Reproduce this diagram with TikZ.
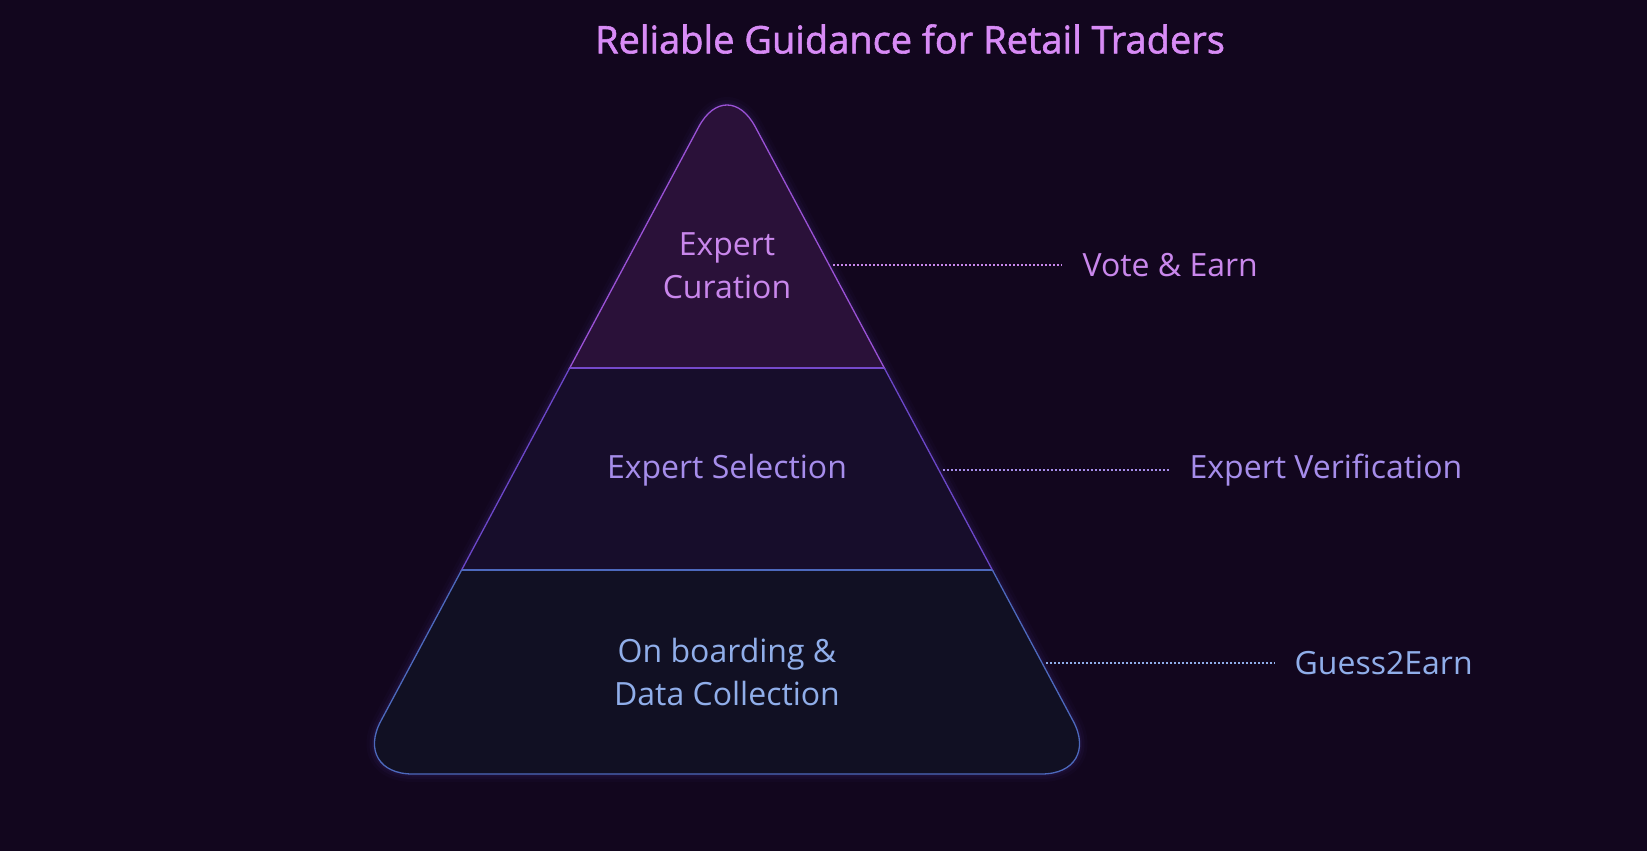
\documentclass[tikz,border=0pt]{standalone}
\usepackage{fontspec}
\setmainfont{Open Sans}
\newfontfamily\titlefont[FakeBold=1.5]{Open Sans}
\usetikzlibrary{calc}
\definecolor{bgc}{HTML}{12061E}
\definecolor{topf}{HTML}{2A1139}
\definecolor{midf}{HTML}{170D2B}
\definecolor{botf}{HTML}{111023}
\definecolor{tops}{HTML}{9B52D6}
\definecolor{mids}{HTML}{6C47C9}
\definecolor{bots}{HTML}{4D69BD}
\definecolor{topt}{HTML}{C987EC}
\definecolor{midt}{HTML}{A68DEB}
\definecolor{bott}{HTML}{90AEEA}
\definecolor{titlec}{HTML}{D88BF6}

\begin{document}
\begin{tikzpicture}[x=1pt,y=-1pt,line width=1.3pt,
  lbl/.style={font=\fontsize{32}{43}\selectfont,align=center,inner sep=0pt},
  dots/.style={line width=1.7pt,dash pattern=on 1.7pt off 2.3pt,shorten <=4pt,shorten >=20pt}]
\fill[bgc] (0,0) rectangle (1647,851); \useasboundingbox (0,0) rectangle (1647,851);
\coordinate (T) at (727,74); \coordinate (L) at (352.5,774); \coordinate (R) at (1101.5,774);
\def\pyr{(727,774) [rounded corners=60pt] -- (R) -- (T) -- (L) -- cycle}
% soft glow round the pyramid
\foreach \w/\o in {16/.03,10/.05,5/.07} \draw[line width=\w pt,mids,opacity=\o] \pyr;
% three tiers
\foreach \ya/\yb/\fc/\sc in {0/368/topf/tops,368/570/midf/mids,570/851/botf/bots} {
  \begin{scope} \clip (0,\ya) rectangle (1647,\yb); \fill[\fc] \pyr; \draw[\sc] \pyr; \end{scope}}
\draw[mids!80!tops] ($(T)!.42!(L)$) -- ($(T)!.42!(R)$);
\draw[bots] ($(T)!.7086!(L)$) -- ($(T)!.7086!(R)$);
\node[titlec,font=\titlefont\fontsize{38}{45}\selectfont] (title) at (910,39) {Reliable Guidance for Retail Traders};
\node[lbl,topt] (cur) at (727,266) {Expert\\Curation};
\node[lbl,midt] (sel) at (727,470) {Expert Selection};
\node[lbl,bott] (onb) at (727,672) {On boarding \&\\Data Collection};
\foreach \f/\n/\x/\c/\t in {.273/vote/1082/topt/Vote \& Earn,.566/ver/1189/midt/Expert Verification,.841/gue/1294/bott/Guess2Earn} {
  \coordinate (s\n) at ($(T)!\f!(R)$);
  \node[lbl,\c,anchor=west] (\n) at (\x,{\f*700+74}) {\t};
  \draw[dots,\c] (s\n) -- (\n.west);}
\end{tikzpicture}
\end{document}
